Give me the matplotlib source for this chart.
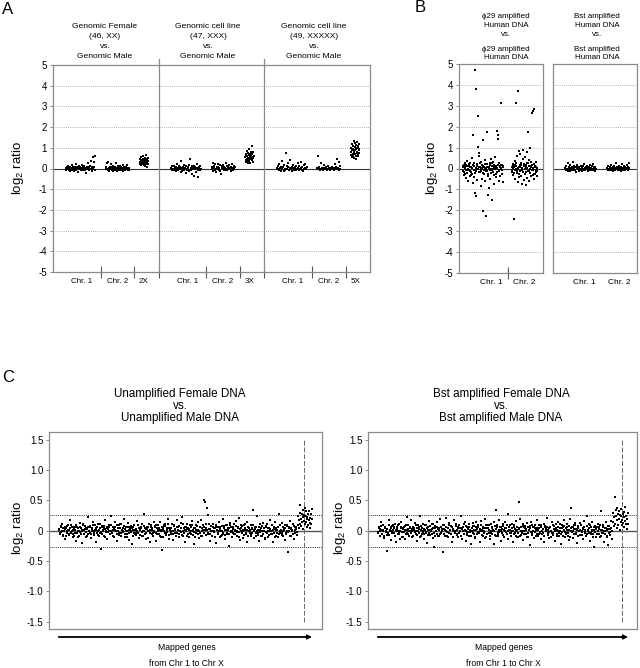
import numpy as np
import matplotlib.pyplot as plt

plt.rcParams['font.family'] = ['Liberation Sans', 'DejaVu Sans']
plt.rcParams['mathtext.default'] = 'regular'
plt.rcParams['axes.unicode_minus'] = False

# ---------------- data (log2 ratio, in hundredths) ----------------
# panel A: genomic DNA comparisons
a_titles = ['Genomic Female\n(46, XX)\nvs.\nGenomic Male',
            'Genomic cell line\n(47, XXX)\nvs.\nGenomic Male',
            'Genomic cell line\n(49, XXXXX)\nvs.\nGenomic Male']
a_groups = [['Chr. 1', 'Chr. 2', '2X'],
            ['Chr. 1', 'Chr. 2', '3X'],
            ['Chr. 1', 'Chr. 2', '5X']]

a_xx_chr1 = [2, -5, 8, -3, 0, 12, -8, 4, -12, 6, 1, -2, 15, -6, 3, 9, -10, 0, 5, -4,
             20, -7, 2, 7, -15, 4, -1, 10, -3, 6, -9, 3, 18, 0, -5, 8, -2, 11, -6, 1,
             4, -20, 9, -3, 25, 5, -8, 2, 13, -4, 35, 0, -11, 6, 55, -2, 30, 8, 62, -5]
a_xx_chr2 = [5, -3, 28, 0, -8, 33, 2, -12, 6, -4, 20, 1, -6, 9, -2, 14, -10, 3, 0, -5,
             7, 25, -3, 4, -14, 10, -1, 2, -7, 12, 5, -9, 0, 8, -4, 3, -11, 15, -2, 6,
             0, -6, 9, -3, 18, 2, -8, 4, 1, -5]
a_xx_x = [30, 45, 20, 38, 25, 55, 15, 33, 42, 28, 60, 22, 35, 48, 18, 40, 27, 52, 12, 36,
          31, 44, 24, 65, 8, 39, 29, 50, 34, 21]

a_xxx_chr1 = [3, -6, 10, -2, 14, -9, 0, 5, -13, 8, -4, 22, 1, -7, 12, -3, 6, -16, 35, 2,
              -10, 9, -1, 18, -5, 4, -20, 11, 0, -8, 7, -3, 15, -12, 45, 3, -6, -25, 10, -2,
              5, -35, 13, -4, 8, -15, 2, 20, -9, -40, 6, 0, -5, 11, -2]
a_xxx_chr2 = [6, -4, 25, -10, 3, 12, -6, 20, -15, 0, 8, -3, 22, 5, -8, 2, 15, -12, -25, 4,
              10, -1, 18, -5, 7, -9, 3, 28, -2, 12, -7, 0, 9, -4, 16, 2, -11, 6, -3, 24,
              1, -6, 11, -2, 5]
a_xxx_x = [55, 40, 70, 30, 62, 48, 85, 35, 58, 75, 25, 52, 66, 44, 95, 38, 60, 72, 50, 28,
           80, 46, 64, 54, 110, 42, 68, 57, 33, 78, 49, 61]

a_xxxxx_chr1 = [4, -3, 12, -7, 20, 1, -10, 8, 35, -2, 5, -12, 15, 0, -6, 75, 10, -4, 6, 28,
                -8, 3, 40, -1, 9, -14, 2, 18, -5, 7, 0, -9, 13, -3, 25, 4, -6, 11, -2, 30,
                1, -8, 6, -11, 16, -4, 3, 22, -1, 8]
a_xxxxx_chr2 = [2, -3, 60, 5, -6, 0, 25, -2, 4, -8, 1, 15, -4, 3, -1, 6, -5, 0, 10, -3,
                2, -7, 4, 0, -2, 8, -4, 1, -6, 3, 20, -1, 5, -3, 45, 2, -5, 30, 0, 12]
a_xxxxx_x = [80, 65, 100, 55, 120, 90, 72, 110, 60, 95, 135, 78, 85, 50, 105, 70, 125, 88, 62, 115,
             92, 45, 98, 75, 130, 82, 68, 108, 58, 102, 87, 118, 73, 96]

# panel B: amplified vs amplified
b_titles = [('\u03d529 amplified\nHuman DNA\nvs.', '\u03d529 amplified\nHuman DNA'),
            ('Bst amplified\nHuman DNA\nvs.', 'Bst amplified\nHuman DNA')]
b_groups = ['Chr. 1', 'Chr. 2']

b_phi_chr1 = [5, -12, 18, -30, 2, 25, -8, -45, 10, -20, 35, 0, -60, 14, -5, 28, -35, 8, -15, 50,
              -25, 4, 160, -70, 12, -40, -117, 471, -133, 380, -10, 22, -55, 250, 103, 75, 60, -18, 6, -85,
              30, -3, -48, 15, 136, -203, 9, -28, 40, -62, 3, -227, -14, 175, 20, -38, -125, 7, -95, 26,
              -6, -52, 45, -22, 11, -150, -2, 33, -75, 16, -32, 1, 55, -42, 8, -16, 180, 160, 140, -58,
              24, -8, 13, -36, 4, 313, -24, 19, -65, 6]
b_phi_chr1_core = [10, -15, 5, -25, 18, -5, 0, 22, -12, 8, -30, 3, 15, -8, 25, -20, 1, 12, -3, -18,
                   6, 28, -10, 2, -22, 14, -6, 20, 0, -14, 9, -28, 4, 17, -1, -9, 24, -16, 7, -4,
                   13, -26, 2, 19, -11, 5, -2, 16, -7, 11]
b_phi_chr2 = [8, -15, 22, -30, 5, -242, -8, 35, -50, 313, 12, 60, -22, -65, 370, 3, 85, -40, 18, -10,
              70, -35, 28, -72, 0, 90, -18, 45, -55, 10, 55, -28, 15, -80, 6, 80, -45, 25, 175, -12,
              40, -60, 98, -20, 14, -38, 32, 267, -5, -30, 275, 20, 285, -48, 9, -25, 30, -15, 4, -35]
b_phi_chr2_core = [-8, 12, 3, -20, 16, -4, 25, -12, 0, 9, -25, 6, 18, -6, 2, -15, 22, -2, 10, -18,
                   4, 28, -10, 14, -3, -22, 7, 19, -9, 1, -28, 13, -5, 8, -14]
b_bst_chr1 = [3, -8, 12, -4, 0, 25, -10, 6, -2, 15, -13, 4, -6, 9, -1, 30, -9, 2, 11, -5,
              7, -15, 1, 18, -3, 5, -11, 8, 0, -7, 14, -2, 3, -12, 10, -4, 22, -6, 1, -9,
              6, -3, 13, -14, 2, 8, -5, 0, 16, -8, 4, -1, 11, -6, 20, -3, 5, -10, 7, -2]
b_bst_chr2 = [4, -6, 10, -2, 0, 8, -9, 3, 15, -5, 1, -11, 6, -3, 12, -7, 2, 25, -4, 9,
              0, -8, 5, -1, 14, -6, 3, -10, 7, -2, 20, -5, 1, 11, -3, 6, -9, 2, 0, 16,
              -4, 8, -7, 3, 28]

# panel C: female vs male over all mapped genes (autosomes then X)
c_titles = ['Unamplified Female DNA\nvs.\nUnamplified Male DNA',
            'Bst amplified Female DNA\nvs.\nBst amplified Male DNA']
c_ticks = [-1.5, -1.0, -0.5, 0, 0.5, 1.0, 1.5]
c_ticklabels = ['-1.5', '-1.0', '-0.5', '0', '0.5', '1.0', '1.5']
c_threshold = 0.26

c_unamp_auto = [
    3, -5, 8, -2, 12, -9, 0, 6, -14, 4, -1, 10, -7, 2, 18, -4, 7, -11, 1, 5,
    -3, 9, -16, 6, 0, -8, 13, -2, 4, -20, 11, -5, 2, 8, -10, 3, 22, -6, 0, 7,
    -12, 5, -1, 15, -4, 9, -18, 2, 6, -7, 1, 12, -3, -30, 8, 0, -9, 4, 17, -2,
    6, -13, 3, 10, -6, 0, 25, -4, 7, -10, 2, 14, -1, -16, 5, 9, -3, 11, -8, 1,
    4, -2, 19, -11, 7, 0, -5, 13, -15, 3, 8, -1, -21, 6, 10, -4, 2, -7, 16, -3,
    9, -12, 1, 5, -8, 12, -1, 27, -6, 3, -14, 7, 0, 11, -4, -19, 6, 2, -9, 14,
    -2, 8, -17, 4, 0, 10, -5, 15, -10, 2, -31, 6, 9, -3, 12, -7, 1, 20, -13, 5,
    3, -6, 11, -1, -15, 8, 2, -9, 17, -4, 6, -11, 0, 13, -2, 23, -8, 4, -18, 7,
    0, 12, -5, 3, -10, 9, -1, 16, -7, 2, -22, 5, 10, -3, 0, 14, -12, 6, -4, 18,
    -9, 1, 7, 50, 47, 11, 38, -6, 26, 3, -16, 8, 0, -8, 12, -1, 5, -20, 9, 2,
    -4, 15, -11, 6, 0, -7, 19, -3, 8, -13, 2, 10, -5, 4, -25, 13, -1, 7, -10, 3,
    11, -6, 0, 16, -9, 5, -2, 21, -15, 4, 8, -1, -12, 9, 2, -5, 14, -18, 6, 0,
    -3, 10, -8, 3, 35, -12, 1, 6, -4, 24, -7, 2, -17, 11, 5, -1, -9, 13, 0, -14,
    7, -2, 12, -10, 4, 0, 18, -6, 9, -19, 3, -3, 15, -8, 1, 6, -11, 28, -4, 2,
    -7, 13, -1, 5, -15, 10, -3, 8, -35, 4, 0, 16, -9, 2, 11, -5, -13, 7, 3, -2]
c_unamp_core = [
    2, -4, 6, -1, 5, -7, 0, 3, -9, 8, -3, 1, -6, 4, 9, -2, 0, -5, 7, -8,
    1, 6, -3, -10, 4, 0, 7, -5, 2, -1, 10, -6, 3, 5, -2, -9, 6, 0, -4, 8,
    -6, 3, 9, -1, -7, 2, 5, -3, 0, 11, -8, 4, -2, 6, -5, 1, 8, -10, 3, -1,
    5, -2, 0, 7, -6, 10, -4, 2, -9, 3, 6, -1, -5, 9, 0, -7, 4, 12, -3, 1,
    -1, 8, -5, 3, 0, -11, 6, 2, -4, 7, -2, 5, -8, 1, 10, -6, 3, -3, 0, 9,
    4, -7, 1, 6, -2, -9, 8, 0, 5, -4, 3, -12, 7, -1, 2, 9, -6, 4, -3, 0,
    7, -3, 10, -5, 1, 4, -8, 2, -1, 6, -10, 3, 0, 8, -4, 5, -2, 11, -7, 1,
    -2, 5, 0, -6, 9, -3, 3, -9, 6, 1, -5, 8, -1, 4, -7, 0, 12, -4, 2, 6,
    3, -8, 4, 1, -3, 7, -6, 10, 0, -2, 5, -10, 2, 8, -5, 1, -1, 6, -9, 4,
    0, 9, -4, 2, -7, 5, 1, -3, 11, -6, 3, 0, -8, 7, -2, 4, -11, 6, 1, -5,
    6, -1, 3, -9, 8, 0, -5, 4, 2, -7, 10, -3, 1, 5, -6, 9, -2, 0, 7, -4,
    -5, 2, 8, -2, 0, 6, -10, 3, -1, 9, -4, 1, -7, 5, 11, -3, 2, -8, 4, 0,
    1, -6, 5, -3, 10, -1, 3, -8, 7, 0, -4, 6, -2, 2, -9, 8, -5, 4, 0, -12,
    8, -4, 0, 5, -7, 3, -1, 9, -5, 2, 6, -10, 1, 4, -3, 7, -6, 0, 10, -2,
    -3, 6, -8, 2, 4, -5, 9, 0, -2, 7, -9, 3, 5, -1, -6, 8, 1, -4, 6, -7]
c_unamp_x = [10, 25, 5, 18, 30, 12, 42, 20, 8, 28, 15, 35, 22, 3, 26, 16, 38, 11, 24, 32,
             14, 22, 6, 19, 28, 9, 17, 33, 13, 21, 4, 27, 11, 19, 36]

c_bst_auto = [
    -2, 6, -9, 3, 14, -5, 1, 9, -12, 4, 0, -7, -33, -3, 17, -1, 5, -15, 8, 2,
    7, -4, 12, -18, 3, 0, 10, -6, -13, 5, 15, -2, -10, 6, 1, -13, 9, 22, -5, 3,
    -8, 4, 18, -1, -11, 7, 2, 13, -6, 0, -16, 10, 3, -4, 25, -9, 5, -2, 12, -14,
    1, 9, -3, -20, 6, 16, -7, 2, 0, 11, -12, 4, -26, 8, -1, 14, -5, 3, -9, 19,
    -4, 6, 0, -35, 10, 3, -8, 21, -2, 5, -11, 13, 1, -6, 8, -18, 2, 17, -3, 0,
    12, -7, 4, -10, 9, -1, 24, -13, 3, 6, -5, 15, -17, 0, 7, -2, 11, -9, 2, -22,
    5, 13, -4, 8, -12, 1, 14, -6, 10, -3, 3, -19, 16, 0, -8, 6, -1, 20, -11, 4,
    -5, 9, 2, -14, 12, -3, 7, 0, -21, 15, -7, 35, 10, -2, -9, 18, 1, -16, 6, 3,
    8, -10, 14, -1, 5, -6, 27, -13, 2, 9, -4, 0, 12, -18, 6, -3, 16, -8, 1, -11,
    4, 47, 19, -7, 0, 11, -15, 6, 8, -5, 3, 13, -10, 1, 8, -24, 15, -3, 7, -1,
    -12, 10, 2, -6, 17, -9, 5, -2, -14, 9, 0, -4, 12, -19, 6, 3, 21, -7, 1, -2,
    6, -11, 0, 15, -3, 8, -17, 2, 11, -5, -1, 14, -8, 4, -22, 9, -2, 7, 18, -10,
    -3, 5, 12, -9, 1, -15, 20, 38, 7, 0, -12, 10, 13, -6, 3, -20, 8, -1, 13, -7,
    9, -2, 4, -13, 16, 0, -8, 25, -5, 2, 11, -16, 6, -3, 14, -10, 1, -27, 8, 3,
    -6, 12, -1, 7, -11, 33, 2, -4, 10, -18, 5, 0, 15, -9, 3, -23, 8, -2, 16, -13]
c_bst_core = [
    -3, 5, -1, 8, -6, 2, 0, -9, 4, 7, -2, 3, -5, 10, -7, 1, 6, -4, 0, 9,
    4, -8, 2, -1, 6, -5, 11, -3, 0, 7, -10, 3, 5, -2, 8, -6, 1, -4, 9, -1,
    0, 7, -4, 3, -9, 5, 1, -2, 10, -7, 4, -1, 6, -11, 2, 8, -5, 0, 3, -6,
    9, -2, 5, -7, 1, -4, 8, 0, -6, 3, 12, -3, -8, 5, -1, 7, -9, 2, 4, -5,
    -4, 3, 0, 10, -6, 2, -1, 6, -8, 4, -3, 9, 1, -5, 7, -10, 3, 0, -2, 8,
    2, -6, 7, -3, 5, 0, -9, 4, -1, 11, -5, 1, 8, -4, -7, 3, 6, -2, 0, -8,
    -1, 8, -5, 1, -10, 6, 3, -2, 7, -4, 0, 9, -7, 2, 5, -3, -12, 4, 10, -6,
    5, -3, 9, -8, 0, 4, -6, 2, -1, 8, -9, 3, 6, -5, 1, -2, 7, 0, -4, 11,
    -7, 1, 4, -2, 10, -5, 0, 6, -3, 2, -8, 5, -1, 9, -6, 3, 0, -11, 7, -4,
    3, -9, 6, 0, -3, 8, -1, -6, 4, 2, -10, 7, -4, 1, 5, -2, 9, -7, 0, 6,
    -2, 4, -8, 5, 1, -5, 10, -3, 7, 0, -6, 3, -9, 8, 2, -1, 6, -4, -12, 5,
    7, 0, -4, 9, -7, 3, -1, 5, -9, 2, 6, -3, 0, 11, -5, 4, -8, 1, 8, -2,
    -5, 6, 1, -3, 8, -10, 4, 0, -2, 7, -6, 3, 9, -4, 1, -8, 5, -1, 2, 10,
    0, -7, 3, 6, -4, 1, -9, 8, -1, 5, -3, 10, -6, 2, 0, -5, 7, -2, 4, -11,
    6, -1, -5, 3, 9, -8, 2, -3, 7, 0, -6, 4, -10, 1, 8, -4, 3, -7, 5, -1]
c_bst_x = [15, 30, 8, 22, 55, 12, 35, 25, 5, 18, 38, 28, 10, 33, 20, 2, 26, 14, 36, 24,
           18, 9, 27, 13, 31, 6, 22, 16, 40, 11, 24, 3, 20, 29, 12]

# ---------------- layout helpers (pixel based) ----------------
W, H = 640, 668
fig = plt.figure(figsize=(W / 100, H / 100), dpi=100)

FRAME = '#8a8a8a'
GRID = '#9a9a9a'


def box(l, t, r, b):
    return [l / W, 1 - b / H, (r - l) / W, (b - t) / H]


def ftext(x, y, s, **kw):
    fig.text(x / W, 1 - y / H, s, **kw)


def style_frame(ax):
    for sp in ax.spines.values():
        sp.set_color(FRAME)
        sp.set_linewidth(0.9)


def dots(ax, x0, x1, vals, ms=1.1):
    vals = np.asarray(vals) / 100.0
    xs = np.linspace(x0, x1, len(vals))
    ax.plot(xs, vals, 's', ms=ms, mew=0, color='black')


def log_grid(ax):
    for v in range(-4, 5):
        if v == 0:
            ax.axhline(0, color='#333333', lw=0.8, zorder=1)
        else:
            ax.axhline(v, color=GRID, lw=0.6, ls=(0, (1, 1.5)), zorder=0)
    ax.set_ylim(-5, 5)
    ax.set_yticks(range(-5, 6))
    ax.tick_params(axis='y', direction='out', length=2.5, width=0.7,
                   color=FRAME, labelsize=7, pad=2)


ylab = r'log$_2$ ratio'

# ---------------- panel A ----------------
axA = fig.add_axes(box(53, 65, 370, 272))
style_frame(axA)
log_grid(axA)
axA.set_xlim(0, 3)
spans = [(0.12, 0.40), (0.50, 0.72), (0.82, 0.90)]
a_data = [[a_xx_chr1, a_xx_chr2, a_xx_x],
          [a_xxx_chr1, a_xxx_chr2, a_xxx_x],
          [a_xxxxx_chr1, a_xxxxx_chr2, a_xxxxx_x]]
for s, groups in enumerate(a_data):
    for (g0, g1), vals in zip(spans, groups):
        dots(axA, s + g0, s + g1, vals, ms=1.7)
for s in (1, 2):
    axA.axvline(s, ymin=0, ymax=1.03, color=FRAME, lw=0.9, clip_on=False)
major = []
minor = []
minor_lab = []
for s in range(3):
    major += [s + 0.45, s + 0.77]
    if s > 0:
        major.append(s)
    minor += [s + 0.27, s + 0.61, s + 0.86]
    minor_lab += a_groups[s]
axA.set_xticks(sorted(major))
axA.set_xticklabels([])
axA.set_xticks(minor, minor=True)
axA.set_xticklabels(minor_lab, minor=True)
axA.tick_params(axis='x', which='major', direction='inout', length=9, width=0.8, color='#555555')
axA.tick_params(axis='x', which='minor', length=0, labelsize=5.8, pad=4)
for xc, t in zip([105, 208, 314], a_titles):
    ftext(xc, 41.5, t, ha='center', va='center', fontsize=6.1, linespacing=1.55)
ftext(18, 168, ylab, rotation=90, ha='center', va='center', fontsize=9.5)
ftext(8, 9, 'A', ha='center', va='center', fontsize=12)

# ---------------- panel B ----------------
b_boxes = [(459, 543), (553, 637)]
b_spans = [[(4, 44), (53, 78)], [(12, 43), (54, 76)]]
b_labels_x = [[32, 65], [31, 66]]
b_data = [[(b_phi_chr1, b_phi_chr1_core), (b_phi_chr2, b_phi_chr2_core)],
          [(b_bst_chr1,), (b_bst_chr2,)]]
b_centers = [506, 597]
for k in range(2):
    l, r = b_boxes[k]
    ax = fig.add_axes(box(l, 64, r, 273))
    style_frame(ax)
    log_grid(ax)
    ax.set_xlim(0, r - l)
    for (g0, g1), series in zip(b_spans[k], b_data[k]):
        for vals in series:
            dots(ax, g0, g1, vals, ms=1.5)
    if k == 0:
        ax.set_xticks([49])
        ax.set_xticklabels([])
        ax.tick_params(axis='x', which='major', direction='inout', length=9, width=0.8, color='#555555')
    else:
        ax.set_xticks([])
        ax.set_yticklabels([])
        ax.tick_params(axis='y', length=0)
    ax.set_xticks(b_labels_x[k], minor=True)
    ax.set_xticklabels(b_groups, minor=True)
    ax.tick_params(axis='x', which='minor', length=0, labelsize=6, pad=4)
    top, bottom = b_titles[k]
    ftext(b_centers[k], 25.5, top, ha='center', va='center', fontsize=5.8, linespacing=1.35)
    ftext(b_centers[k], 53.5, bottom, ha='center', va='center', fontsize=5.8, linespacing=1.35)
ftext(432, 168, ylab, rotation=90, ha='center', va='center', fontsize=9.5)
ftext(420, 8, 'B', ha='center', va='center', fontsize=12)

# ---------------- panel C ----------------
c_boxes = [(49, 322), (368, 637)]
c_auto_span = [(10, 248), (10, 244)]
c_x_span = [(249, 263), (245, 260)]
c_dash = [255, 254]
c_data = [((c_unamp_auto, c_unamp_core), c_unamp_x), ((c_bst_auto, c_bst_core), c_bst_x)]
c_title_x = [180, 501]
c_ylab_x = [18, 340]
for k in range(2):
    l, r = c_boxes[k]
    ax = fig.add_axes(box(l, 432, r, 629))
    style_frame(ax)
    ax.set_xlim(0, r - l)
    ax.set_ylim(-1.62, 1.63)
    ax.axhline(0, color='#555555', lw=1.0, zorder=1)
    for v in (c_threshold, -c_threshold):
        ax.axhline(v, color='#222222', lw=0.7, ls=(0, (1, 1.2)), zorder=1)
    ax.plot([c_dash[k]] * 2, [-1.5, 1.5], color='#666666', lw=0.7, ls=(0, (5, 2)), zorder=1)
    (auto, core), xg = c_data[k]
    # the two autosome series alternate along the gene order
    genes = np.column_stack([auto, core]).ravel()
    dots(ax, c_auto_span[k][0], c_auto_span[k][1], genes, ms=1.8)
    dots(ax, c_x_span[k][0], c_x_span[k][1], xg, ms=1.8)
    ax.set_xticks([])
    ax.set_yticks(c_ticks)
    ax.set_yticklabels(c_ticklabels)
    ax.tick_params(axis='y', direction='out', length=2, width=0.7, color=FRAME, labelsize=7, pad=2)
    ftext(c_title_x[k], 406, c_titles[k], ha='center', va='center', fontsize=8.4, linespacing=1.05)
    ftext(c_ylab_x[k], 528, ylab, rotation=90, ha='center', va='center', fontsize=9.5)
    x0 = l + c_auto_span[k][0]
    x1 = l + c_x_span[k][1]
    fig.add_artist(plt.Line2D([x0 / W, (x1 - 4) / W], [1 - 637 / H] * 2, color='black', lw=1.3))
    ax.annotate('', xy=(x1 / W, 1 - 637 / H), xytext=((x1 - 6) / W, 1 - 637 / H),
                xycoords='figure fraction', textcoords='figure fraction',
                arrowprops=dict(arrowstyle='-|>', color='black', lw=1.0, mutation_scale=7,
                                shrinkA=0, shrinkB=0))
    xm = (l + r) / 2 + 1
    ftext(xm, 648, 'Mapped genes', ha='center', va='center', fontsize=6.2)
    ftext(xm, 663, 'from Chr 1 to Chr X', ha='center', va='center', fontsize=6.2)
ftext(8, 378, 'C', ha='center', va='center', fontsize=12)

fig.savefig('out.png', dpi=100)
